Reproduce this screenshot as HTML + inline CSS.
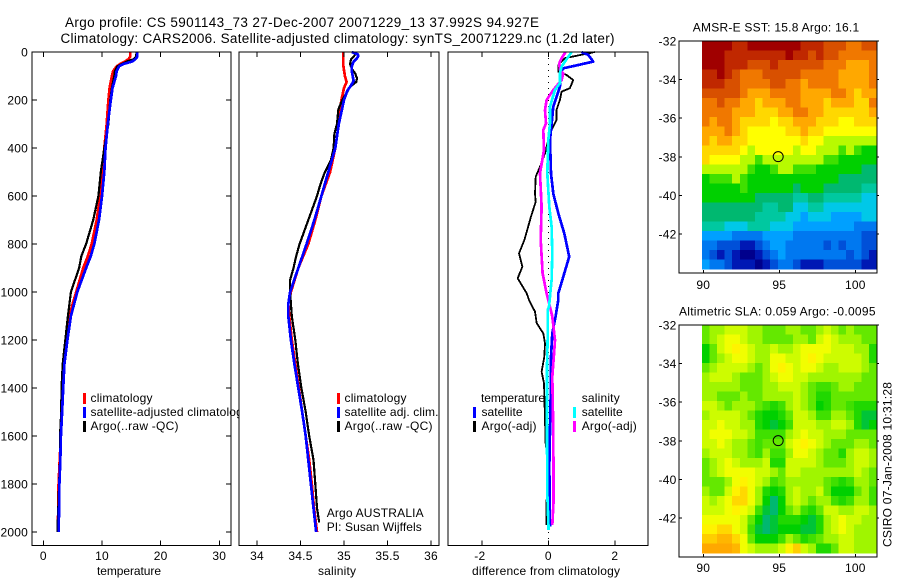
<!DOCTYPE html>
<html lang="en">
<head>
<meta charset="utf-8">
<title>Argo profile CS 5901143_73</title>
<style>
html,body{margin:0;padding:0;background:#fff;width:900px;height:580px;overflow:hidden}
svg{display:block}
text{font-family:"Liberation Sans",sans-serif;font-size:12px;fill:#000}
text.big{font-size:13.5px}
</style>
</head>
<body>
<svg id="chart" xmlns="http://www.w3.org/2000/svg" width="900" height="580" viewBox="0 0 900 580">
  <rect x="0" y="0" width="900" height="580" fill="#fff"/>
  <text class="big" x="65" y="27" textLength="474">Argo profile: CS 5901143_73 27-Dec-2007 20071229_13 37.992S 94.927E</text>
  <text class="big" x="60.5" y="43" textLength="554">Climatology: CARS2006. Satellite-adjusted climatology: synTS_20071229.nc (1.2d later)</text>

  <g id="panel-t"></g>
  <g id="panel-s"></g>
  <g id="panel-d"></g>
  <g id="map-sst"></g>
  <g id="map-sla"></g>

  <g>
    <rect x="83" y="393" width="3" height="11" fill="#f00"/>
    <text x="90.5" y="402" textLength="62">climatology</text>
    <rect x="83" y="407" width="3" height="11" fill="#00f"/>
    <rect x="83" y="421" width="3" height="11" fill="#000"/>
    <text x="90.5" y="430" textLength="88">Argo(..raw -QC)</text>
  </g>
  <g>
    <rect x="337" y="393" width="3" height="11" fill="#f00"/>
    <text x="344.5" y="402" textLength="62">climatology</text>
    <rect x="337" y="407" width="3" height="11" fill="#00f"/>
    <text x="344.5" y="416" textLength="94">satellite adj. clim.</text>
    <rect x="337" y="421" width="3" height="11" fill="#000"/>
    <text x="344.5" y="430" textLength="88">Argo(..raw -QC)</text>
    <text x="326.7" y="517" textLength="97">Argo AUSTRALIA</text>
    <text x="326.7" y="531" textLength="95">PI: Susan Wijffels</text>
  </g>
  <g>
    <text x="481" y="402" textLength="64">temperature</text>
    <rect x="473" y="407" width="3" height="11" fill="#00f"/>
    <text x="481.5" y="416" textLength="41">satellite</text>
    <rect x="473" y="421" width="3" height="11" fill="#000"/>
    <text x="481.5" y="430" textLength="55">Argo(-adj)</text>
    <text x="581.7" y="402" textLength="38">salinity</text>
    <rect x="573" y="407" width="3" height="11" fill="#0ff"/>
    <text x="581.7" y="416" textLength="41">satellite</text>
    <rect x="573" y="421" width="3" height="11" fill="#f0f"/>
    <text x="581.7" y="430" textLength="55">Argo(-adj)</text>
  </g>

  <text x="97" y="575" textLength="64">temperature</text>
  <text x="318" y="575" textLength="38">salinity</text>
  <text x="472" y="575" textLength="148">difference from climatology</text>
  <text x="692.7" y="31.5" textLength="166.5">AMSR-E SST: 15.8 Argo: 16.1</text>
  <text x="679" y="315.5" textLength="196.5">Altimetric SLA: 0.059 Argo: -0.0095</text>
  <text transform="translate(891.5 547) rotate(-90)" textLength="165">CSIRO 07-Jan-2008 10:31:28</text>
</svg>

<script>
/* ---------- profile data ---------- */
const depthTicks = [0,200,400,600,800,1000,1200,1400,1600,1800,2000];
const tempTicks = [0,10,20,30];
const salTicks = [34,34.5,35,35.5,36];
const salTickLabels = ['34','34.5','35','35.5','36'];
const diffTicks = [-2,0,2];

const tempDepths = [0,20,30,40,50,60,80,100,150,200,300,400,500,600,700,800,850,900,1000,1100,1200,1300,1400,1500,1600,1700,1800,1900,2000];
const tempClim = [14.8,14.8,14.5,13.9,13.1,12.5,11.9,11.7,11.3,11.1,10.8,10.4,10.1,9.7,9.1,8.25,7.6,6.8,5.6,4.4,4.0,3.6,3.2,3.1,3.0,2.8,2.6,2.55,2.45];
const tempSat = [16.0,16.0,15.7,15.1,13.65,12.9,12.5,12.4,11.8,11.5,11.0,10.6,10.4,10.0,9.5,8.7,8.1,7.3,5.8,4.7,4.1,3.6,3.4,3.2,3.0,2.9,2.75,2.7,2.6];
const tempArgo = [15.9,15.8,15.4,14.2,13.4,12.6,12.2,12.1,11.7,11.4,11.1,10.4,9.8,9.4,8.5,7.3,6.5,6.1,4.7,4.2,3.75,3.3,3.1,3.05,2.85,2.85,2.7,2.55,2.4];

const salClimDepths = [0,50,100,125,150,200,250,300,400,500,600,700,800,900,1000,1050,1100,1200,1300,1400,1500,1600,1700,1800,1900,2000];
const salClim = [34.99,34.99,35.01,35.03,35.0,34.97,34.95,34.94,34.9,34.84,34.74,34.67,34.59,34.475,34.39,34.36,34.37,34.4,34.44,34.48,34.52,34.56,34.6,34.63,34.655,34.69];
const salSatDepths = [0,10,20,30,40,60,80,100,120,140,160,200,300,400,500,600,700,800,900,1000,1050,1100,1200,1300,1400,1500,1600,1700,1800,1900,2000];
const salSat = [35.09,35.16,35.16,35.14,35.11,35.09,35.09,35.1,35.11,35.08,35.04,35.0,34.94,34.9,34.82,34.74,34.66,34.57,34.475,34.38,34.36,34.36,34.39,34.43,34.475,34.52,34.56,34.59,34.62,34.65,34.68];
const salArgoDepths = [0,20,30,50,70,90,110,125,145,170,200,225,240,300,340,400,450,500,550,600,700,800,850,900,950,1000,1100,1200,1300,1400,1500,1600,1700,1800,1900,1960];
const salArgo = [35.145,35.11,35.08,35.07,35.09,35.13,35.15,35.14,35.07,35.03,34.98,34.95,34.935,34.92,34.89,34.88,34.85,34.78,34.73,34.69,34.59,34.49,34.45,34.42,34.38,34.38,34.4,34.44,34.47,34.51,34.56,34.6,34.65,34.67,34.69,34.715];

const diffTempArgoDepths = [0,26,32,54,82,96,117,151,165,200,240,283,325,367,422,478,520,590,624,686,783,839,894,943,1006,1033,1082,1130,1172,1214,1270,1332,1380,1533,1630,1741,1868,1970];
const diffTempArgo = [1.4,0.5,0.45,0.3,0.3,0.55,0.75,0.65,0.4,0.35,0.25,0.25,0.1,0,-0.1,-0.25,-0.38,-0.4,-0.38,-0.52,-0.72,-0.88,-0.78,-0.92,-0.65,-0.58,-0.4,-0.35,-0.15,-0.1,-0.12,-0.2,-0.13,-0.1,-0.08,0.02,-0.05,-0.05];
const diffTempSatDepths = [0,12,40,54,68,89,144,228,367,506,590,672,756,853,922,1006,1033,1102,1172,1270,1450,1728,1978];
const diffTempSat = [1.0,1.2,1.35,0.9,0.45,0.35,0.35,0.15,0.05,0.08,0.15,0.3,0.48,0.63,0.48,0.3,0.3,0.22,0.12,0.08,0.07,0.03,0.05];
const diffSalSatDepths = [0,20,40,61,89,130,158,228,297,367,506,644,728,839,950,1061,1075,1200,1311,1589,1839,1992];
const diffSalSat = [0.7,0.6,0.5,0.4,0.35,0.35,0.2,0.05,0.05,0,-0.03,0.03,0.1,0.12,0.1,0.02,-0.02,-0.02,-0.04,-0.04,-0.03,0.01];
const diffSalArgoDepths = [0,26,47,75,89,117,158,200,242,297,325,408,506,644,783,922,1006,1033,1102,1200,1242,1353,1589,1867,1970];
const diffSalArgo = [0.52,0.4,0.33,0.35,0.45,0.4,0.15,-0.05,-0.1,-0.07,-0.15,-0.13,-0.25,-0.2,-0.23,-0.17,-0.05,0,0.12,0.2,0.18,0.12,0.15,0.16,0.12];

/* ---------- map data (colour-scale levels, rows north to south) ---------- */
const mapLonTicks = [90,95,100];
const mapLatTicks = [-32,-34,-36,-38,-40,-42];
const argoLon = 94.927;
const argoLat = -37.992;
const sstLevels = [
[17,17,17,17,16,16,17,17,17,17,17,17,17,16,16,16,15,15,15,14,14,15,15],
[17,17,17,16,16,16,16,16,16,16,16,17,16,16,15,16,15,15,14,14,14,14,14],
[17,17,17,16,16,16,15,15,15,16,15,15,15,15,15,15,14,14,14,13,13,13,14],
[16,16,17,16,15,14,14,14,15,15,15,15,15,14,14,14,14,14,13,13,13,13,14],
[16,16,16,15,15,14,14,14,14,15,15,14,14,13,14,14,14,14,13,13,13,13,14],
[15,15,15,15,15,14,13,13,13,14,14,14,14,13,13,13,13,14,14,13,12,13,13],
[14,14,15,14,14,13,13,12,13,13,13,14,14,13,13,13,12,13,13,13,12,12,14],
[14,14,14,14,13,13,13,12,12,12,13,13,14,14,13,13,12,12,12,12,12,12,13],
[14,13,14,14,13,12,12,12,12,11,12,12,13,13,13,12,12,12,11,11,12,12,12],
[13,13,13,14,13,12,11,11,11,11,11,12,12,13,12,12,11,11,11,11,11,11,11],
[13,12,13,13,12,12,11,11,11,11,11,11,11,12,11,11,10,10,10,10,10,10,10],
[12,12,12,12,12,11,10,11,11,11,11,11,10,11,11,10,10,10,9,10,9,8,8],
[12,11,11,11,11,10,10,9,10,10,10,10,10,10,10,10,9,9,8,8,8,8,8],
[10,10,10,10,10,10,9,8,8,9,10,10,9,9,9,8,8,8,8,8,8,7,7],
[8,9,9,9,10,9,8,8,8,8,8,8,8,8,8,8,8,8,7,7,7,7,7],
[8,8,8,8,8,9,8,8,8,8,8,8,7,8,8,8,7,7,7,7,7,6,6],
[8,8,8,8,8,8,8,7,7,7,7,7,6,6,7,7,6,6,6,6,6,5,5],
[7,7,7,7,7,7,7,7,6,6,7,7,5,5,6,6,5,5,5,5,5,5,5],
[7,7,7,7,7,7,7,6,6,6,6,5,5,4,5,5,5,4,4,4,4,5,5],
[6,6,6,5,5,5,6,6,6,5,5,5,4,4,4,4,4,4,4,4,3,3,3],
[4,4,4,4,3,3,3,3,4,4,4,4,3,3,3,3,3,3,3,3,3,2,2],
[3,3,2,2,2,1,1,2,3,4,4,3,3,3,3,3,2,3,2,3,3,2,2],
[3,2,1,2,1,0,0,1,2,3,4,3,3,3,3,3,3,3,3,2,3,2,1],
[4,3,3,2,1,1,1,0,1,2,3,3,2,1,1,1,2,2,2,2,2,1,1]
];
const slaLevels = [
[9.3,9.8,9.8,10.3,10.3,10.3,9.8,9.8,9.3,9.3,9.3,9.8,9.8,9.3,9.3,9.8,10.3,9.8,9.3,9.8,9.3,9.3,9.3],
[9.3,9.8,10.3,10.8,10.8,10.3,9.8,9.8,9.3,9.3,9.3,9.3,9.8,9.8,9.3,10.3,10.8,10.3,9.8,9.8,9.8,9.3,9.3],
[8,9.3,10.3,10.8,11.3,10.8,10.3,9.8,9.8,10.3,9.8,9.8,10.3,10.8,10.8,10.8,10.8,10.3,10.3,10.3,9.8,9.8,8.5],
[8,9.3,9.8,10.3,10.8,10.8,10.3,9.8,9.8,10.8,10.8,10.3,10.3,10.8,11.3,10.8,10.3,10.3,10.3,10.3,10.3,9.8,8.5],
[9.3,9.8,10.3,10.3,10.3,10.3,9.8,9.3,9.8,10.8,11.3,10.8,10.3,10.8,10.8,10.3,9.8,9.8,10.3,10.3,10.3,9.8,9.3],
[9.8,10.3,10.3,10.3,9.8,9.3,9.3,9.3,9.8,10.3,10.8,10.8,10.3,10.3,9.8,9.8,9.8,9.8,9.8,9.8,9.8,9.3,9.3],
[9.8,9.8,9.8,9.8,9.8,9.3,9.3,9.3,9.8,9.8,10.3,10.3,10.3,9.8,9.3,9,9,9.3,9.8,9.8,9.3,9.3,9.3],
[9.8,9.8,9.3,9.3,9.3,9.8,9.3,9.3,9.8,9.8,9.8,9.8,10.3,9.8,9.3,8.5,8.5,9.3,9.3,9.3,9.3,9.3,9.3],
[10.3,10.3,9.8,9.3,9.8,9.8,9.8,9.3,9,8.5,9,9.8,10.3,9.8,9.3,8,8.5,9.3,9.3,9,8.5,8.5,8.5],
[9.8,10.3,10.3,10.3,10.3,9.8,9.3,8.5,8,8,8.5,9.3,10.3,10.3,9.8,9,9,9.8,9.8,9.3,8.5,7.5,7.5],
[10.3,10.3,10.8,10.3,10.3,9.8,9.8,8.5,8,7.5,8,9,10.3,10.3,10.3,9.8,9.8,10.3,10.3,9.8,8.5,7.5,8],
[10.3,10.8,10.8,10.8,10.3,10.3,9.8,9,9,9,9,9.8,10.3,10.8,10.3,10.3,9.8,9.8,9.8,9.3,9.3,9.3,9.3],
[10.3,10.3,10.8,10.3,9.8,9.8,9.3,9,9.3,9.3,9.3,10.3,10.8,11.3,10.8,10.3,9.8,9.3,9.3,9.3,9.8,9.8,9.3],
[9.8,10.3,10.3,10.3,9.8,9.8,9.3,9,9.8,9,9,9.8,10.8,10.8,10.3,9.8,9.3,9.3,8.5,9.8,10.3,10.3,9.8],
[9.3,9.8,10.3,10.8,10.3,9.8,9.8,9.8,10.3,8.5,8.5,10.3,10.3,10.3,10.3,9.8,9.3,9.3,9.3,9.8,10.3,10.3,9.8],
[9.3,9.8,10.3,10.8,10.8,10.8,10.8,10.3,10.3,9.8,9.3,10.3,10.3,9.8,9.8,9.8,9.8,9.8,9.8,9.8,10.3,9.8,9.3],
[9.3,9.3,9.3,9.8,10.8,11.3,10.8,10.3,9.8,9,9.3,9.8,9.8,9.8,9.8,9.8,9.3,9,8.5,9,9.8,9.8,9.3],
[9.8,9.3,9.3,10.3,11.3,12,10.8,9.8,8.5,8,8.5,9.8,10.3,9.8,9.8,10.3,9.3,8,8,8,9.3,9.8,9],
[10.3,9.8,10.3,10.8,12,12,10.8,9.8,8,7,8,9.8,10.3,9.8,9.3,9.8,9.8,9,8.5,9,9.8,9.8,9],
[10.3,10.3,10.3,10.8,11.3,10.8,10.3,9,7.5,7,8,9.3,9.8,9,8.5,9.3,10.3,10.3,9.8,9.8,10.3,10.3,9.8],
[10.8,10.8,10.8,10.8,10.8,10.3,9.3,8,7,7.5,8.5,8.5,8.5,8,7.5,8.5,9.8,10.3,10.8,10.3,10.3,9.8,9.8],
[11.3,11.3,12,12,10.8,10.3,9,7.5,7,7.5,8,8,8,7.5,7.5,8.5,9.8,10.3,10.8,10.3,9.8,9.8,9.8],
[12.2,12.2,12.7,12.7,12,10.8,9.3,8,8,8,9,9.8,9.3,8.5,9,9.3,9.8,9.8,10.3,10.3,9.8,9.8,9.8],
[13,13,13,13,12.7,10.8,10.3,9.8,9.8,9.8,10.3,11.3,12.2,10.3,9.8,8.5,8.5,9.3,10.3,10.3,9.8,9.8,9.8]
];
const colourRamp = ['#00008c','#0018b4','#0050d8','#0078f0','#00a0ff','#00c8e8','#00c8a0','#00b870','#00d000','#40e000','#b8fa00','#ffff00','#ffd800','#ffa800','#f07800','#d85000','#c02800','#a00000'];

/* ---------- helpers ---------- */
const NS = 'http://www.w3.org/2000/svg';
function make(parent, tag, attrs) {
  const el = document.createElementNS(NS, tag);
  for (const k in attrs) el.setAttribute(k, attrs[k]);
  parent.appendChild(el);
  return el;
}
function linear(d0, d1, r0, r1) {
  return v => r0 + (v - d0) * (r1 - r0) / (d1 - d0);
}
function hexRgb(h) {
  return [parseInt(h.slice(1,3),16), parseInt(h.slice(3,5),16), parseInt(h.slice(5,7),16)];
}
function levelColour(v) {
  const t = Math.max(0, Math.min(colourRamp.length - 1, v));
  const i = Math.floor(t);
  const j = Math.min(colourRamp.length - 1, i + 1);
  const a = hexRgb(colourRamp[i]);
  const b = hexRgb(colourRamp[j]);
  const f = t - i;
  return 'rgb(' + a.map((c, n) => Math.round(c + (b[n] - c) * f)).join(',') + ')';
}
const yDepth = linear(0, 2000, 52, 532);

function drawProfile(group, xScale, depths, values, colour, width, name) {
  const points = depths.map((d, i) => xScale(values[i]).toFixed(1) + ',' + yDepth(d).toFixed(1)).join(' ');
  const el = make(group, 'polyline', {points: points, fill: 'none', stroke: colour, 'stroke-width': width, 'stroke-linejoin': 'round', 'shape-rendering': 'crispEdges'});
  
  
}
function tickLine(group, x1, y1, x2, y2) {
  const el = make(group, 'line', {x1: x1, y1: y1, x2: x2, y2: y2, stroke: '#000', 'stroke-width': 1, 'shape-rendering': 'crispEdges'});
  
  
}
function tickText(group, str, x, y, anchor) {
  const el = make(group, 'text', {x: x, y: y, 'text-anchor': anchor, 'letter-spacing': 0.2});
  el.textContent = str;
  
  
}
function frame(group, x0, y0, x1, y1) {
  const el = make(group, 'rect', {x: x0, y: y0, width: x1 - x0, height: y1 - y0, fill: 'none', stroke: '#000', 'stroke-width': 1, 'shape-rendering': 'crispEdges'});
  
  
}
function background(group, x0, y0, x1, y1) {
  const el = make(group, 'rect', {x: x0, y: y0, width: x1 - x0, height: y1 - y0, fill: '#fff'});
  
  
}

const axTop = 52, axBottom = 545.5;

/* ---------- temperature panel ---------- */
const gT = document.getElementById('panel-t');
const xT = linear(0, 30, 43.3, 219.3);
background(gT, 32, axTop, 231, axBottom);
drawProfile(gT, xT, tempDepths, tempClim, '#f00', 2.7, 'temperature-climatology-line');
drawProfile(gT, xT, tempDepths, tempArgo, '#000', 2.2, 'temperature-argo-line');
drawProfile(gT, xT, tempDepths, tempSat, '#00f', 2.7, 'temperature-satellite-line');
frame(gT, 32, axTop, 231, axBottom);
tempTicks.forEach(t => {
  tickLine(gT, xT(t), axTop, xT(t), axTop + 5);
  tickLine(gT, xT(t), axBottom - 5, xT(t), axBottom);
  tickText(gT, String(t), xT(t), 560, 'middle');
});
depthTicks.forEach(d => {
  tickLine(gT, 32, yDepth(d), 37, yDepth(d));
  tickLine(gT, 226, yDepth(d), 231, yDepth(d));
  tickText(gT, String(d), 28, yDepth(d) + 4.5, 'end');
});
const satLegend = make(gT, 'text', {x: 90.5, y: 416, textLength: 158.5});
satLegend.textContent = 'satellite-adjusted climatology';



/* ---------- salinity panel ---------- */
const gS = document.getElementById('panel-s');
const xS = linear(34, 36, 257, 431);
background(gS, 239, axTop, 439, axBottom);
drawProfile(gS, xS, salClimDepths, salClim, '#f00', 2.7, 'salinity-climatology-line');
drawProfile(gS, xS, salArgoDepths, salArgo, '#000', 2.2, 'salinity-argo-line');
drawProfile(gS, xS, salSatDepths, salSat, '#00f', 2.7, 'salinity-satellite-line');
frame(gS, 239, axTop, 439, axBottom);
salTicks.forEach((t, i) => {
  tickLine(gS, xS(t), axTop, xS(t), axTop + 5);
  tickLine(gS, xS(t), axBottom - 5, xS(t), axBottom);
  tickText(gS, salTickLabels[i], xS(t), 560, 'middle');
});

/* ---------- difference panel ---------- */
const gD = document.getElementById('panel-d');
const xD = linear(-2, 2, 481.8, 614.8);
background(gD, 448, axTop, 648, axBottom);
const zeroLine = make(gD, 'line', {x1: xD(0), y1: axTop, x2: xD(0), y2: axBottom, stroke: '#000', 'stroke-width': 1, 'stroke-dasharray': '1 5', 'shape-rendering': 'crispEdges'});


drawProfile(gD, xD, diffTempArgoDepths, diffTempArgo, '#000', 1.8, 'temperature-argo-difference-line');
drawProfile(gD, xD, diffTempSatDepths, diffTempSat, '#00f', 2.7, 'temperature-satellite-difference-line');
drawProfile(gD, xD, diffSalArgoDepths, diffSalArgo, '#f0f', 2.7, 'salinity-argo-difference-line');
drawProfile(gD, xD, diffSalSatDepths, diffSalSat, '#0ff', 2.7, 'salinity-satellite-difference-line');
frame(gD, 448, axTop, 648, axBottom);
diffTicks.forEach(t => {
  tickLine(gD, xD(t), axTop, xD(t), axTop + 5);
  tickLine(gD, xD(t), axBottom - 5, xD(t), axBottom);
  tickText(gD, String(t), xD(t) - (t < 0 ? 2 : 0), 560, 'middle');
});

/* ---------- maps ---------- */
function drawMap(group, levels, y0, y1, labelY, cellName) {
  const x = linear(90, 100, 703.3, 855.3);
  const y = linear(-32, -42, y0, y0 + 193);
  const lonStep = 0.5, latStep = 0.4917;
  levels.forEach((row, j) => {
    row.forEach((v, i) => {
      const lon = 89.9 + i * lonStep;
      const lat = -32 - j * latStep;
      const cell = make(group, 'rect', {
        x: x(lon).toFixed(2), y: y(lat).toFixed(2),
        width: (x(lon + lonStep) - x(lon) + 0.5).toFixed(2),
        height: (y(lat - latStep) - y(lat) + 0.5).toFixed(2),
        fill: levelColour(v), 'shape-rendering': 'crispEdges'
      });
      
      
    });
  });
  frame(group, 679, y0, 877, y1);
  mapLonTicks.forEach(t => {
    tickLine(group, x(t), y1 - 3, x(t), y1);
    tickText(group, String(t), x(t), labelY, 'middle');
  });
  mapLatTicks.forEach(t => {
    tickLine(group, 679, y(t), 682, y(t));
    tickLine(group, 877, y(t), 879, y(t));
    tickText(group, String(t), 676.5, y(t) + 4.5, 'end');
  });
  const marker = make(group, 'circle', {cx: x(argoLon), cy: y(argoLat), r: 5, fill: 'none', stroke: '#000', 'stroke-width': 1});
  
  
}
drawMap(document.getElementById('map-sst'), sstLevels, 41, 273, 289, 'sst-cell');
drawMap(document.getElementById('map-sla'), slaLevels, 325, 557, 572, 'sla-cell');
</script>
</body>
</html>
